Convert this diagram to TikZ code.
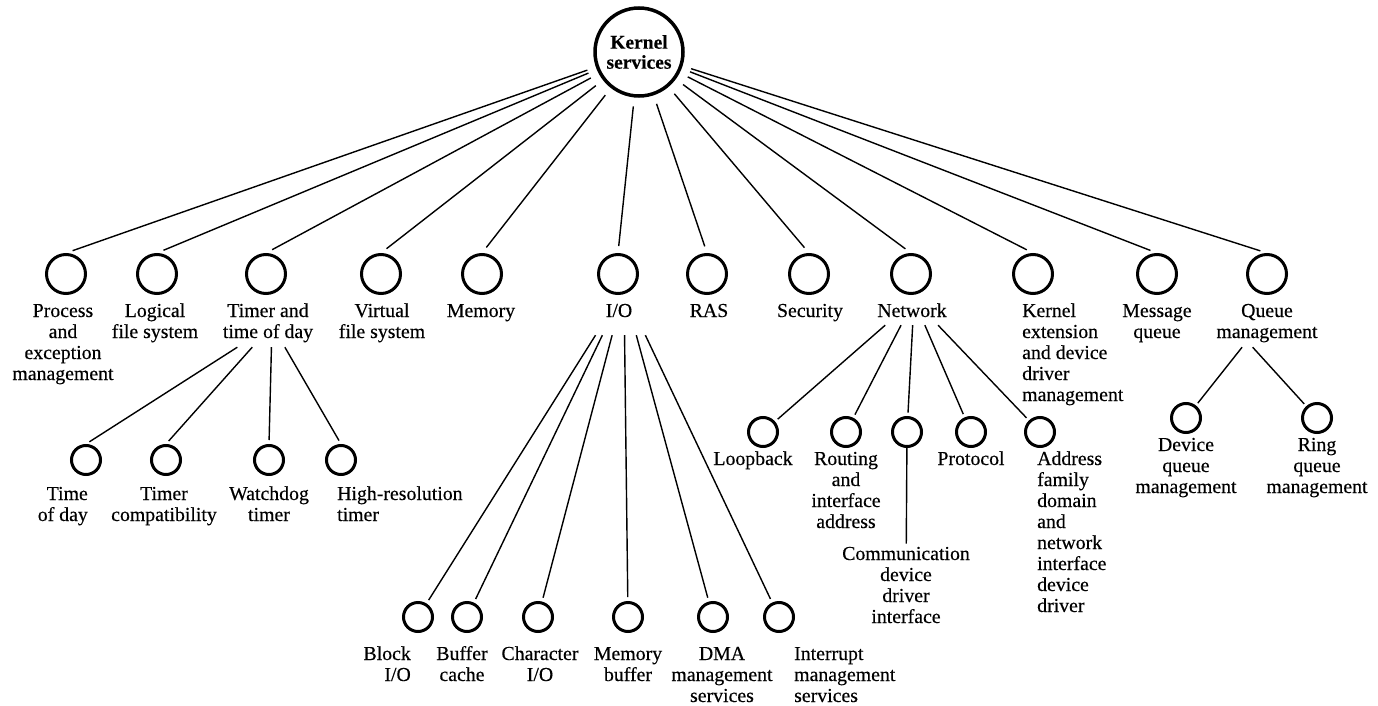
\documentclass[tikz,border=0pt]{standalone}
\usepackage{fontspec}
\setmainfont{Liberation Serif}[FakeBold=0.35]
\begin{document}
\begin{tikzpicture}[x=1pt,y=-1pt,
  every node/.style={inner sep=0pt},
  % labels are placed by the baseline of their last line
  lbl/.style={font=\fontsize{19.8}{21}\selectfont, align=center, anchor=base},
  lblL/.style={lbl, align=left, anchor=base west},
  lblR/.style={lbl, align=right, anchor=base east},
  kernelnode/.style={circle, draw, line width=3.5pt, minimum size=88pt, align=center,
    font=\bfseries\fontsize{19.5}{20}\selectfont},
  svc/.style={circle, draw, line width=3pt, minimum size=39pt},
  sub/.style={circle, draw, line width=3pt, minimum size=29pt},
  hubbox/.style={rectangle, draw=none},
  link/.style={line width=1.4pt},
]
\useasboundingbox (0,0) rectangle (1378,706);

% root
\node[kernelnode] (kernel) at (639,52) {Kernel\\services};

% first level services
\node[svc] (process)  at (66,274)   {};
\node[svc] (logical)  at (157,274)  {};
\node[svc] (timer)    at (266,274)  {};
\node[svc] (virtual)  at (381,274)  {};
\node[svc] (memory)   at (482,274)  {};
\node[svc] (io)       at (618,274)  {};
\node[svc] (ras)      at (707,274)  {};
\node[svc] (security) at (809,274)  {};
\node[svc] (network)  at (911,274)  {};
\node[svc] (kext)     at (1033,274) {};
\node[svc] (message)  at (1157,274) {};
\node[svc] (queue)    at (1267,274) {};

\node[lbl]  (processL)  at (63,380)   {Process\\and\\exception\\management};
\node[lbl]  (logicalL)  at (155,338)  {Logical\\file system};
\node[lbl]  (timerL)    at (268,338)  {Timer and\\time of day};
\node[lbl]  (virtualL)  at (382,338)  {Virtual\\file system};
\node[lbl]  (memoryL)   at (481,317)  {Memory};
\node[lbl]  (ioL)       at (619,317)  {I/O};
\node[lbl]  (rasL)      at (709,317)  {RAS};
\node[lbl]  (securityL) at (810,317)  {Security};
\node[lbl]  (networkL)  at (912,317)  {Network};
\node[lblL] (kextL)     at (1022,401) {Kernel\\extension\\and device\\driver\\management};
\node[lbl]  (messageL)  at (1157,338) {Message\\queue};
\node[lbl]  (queueL)    at (1267,338) {Queue\\management};

% timer and time of day
\node[sub] (tod)     at (86,460)  {};
\node[sub] (tcompat) at (166,460) {};
\node[sub] (wdog)    at (269,460) {};
\node[sub] (hres)    at (341,460) {};
\node[lblR] (todL)     at (88,521)  {Time\\of day};
\node[lbl]  (tcompatL) at (164,521) {Timer\\compatibility};
\node[lbl]  (wdogL)    at (269,521) {Watchdog\\timer};
\node[lblL] (hresL)    at (337,521) {High-resolution\\timer};

% I/O
\node[sub] (blk)  at (418,617) {};
\node[sub] (buf)  at (467,617) {};
\node[sub] (chr)  at (538,617) {};
\node[sub] (mem)  at (628,617) {};
\node[sub] (dma)  at (713,617) {};
\node[sub] (intr) at (779,617) {};
\node[lblR] (blkL)  at (411,681) {Block\\I/O};
\node[lbl]  (bufL)  at (462,681) {Buffer\\cache};
\node[lbl]  (chrL)  at (540,681) {Character\\I/O};
\node[lbl]  (memL)  at (628,681) {Memory\\buffer};
\node[lbl]  (dmaL)  at (722,702) {DMA\\management\\services};
\node[lblL] (intrL) at (794,702) {Interrupt\\management\\services};

% network
\node[sub] (loop)  at (763,432)  {};
\node[sub] (route) at (846,432)  {};
\node[sub] (comm)  at (907,432)  {};
\node[sub] (proto) at (971,432)  {};
\node[sub] (addr)  at (1040,432) {};
\node[lbl]  (loopL)  at (753,465)  {Loopback};
\node[lbl]  (routeL) at (846,528)  {Routing\\and\\interface\\address};
\node[lbl]  (commL)  at (906,623)  {Communication\\device\\driver\\interface};
\node[lbl]  (protoL) at (971,465)  {Protocol};
\node[lblL] (addrL)  at (1037,612) {Address\\family\\domain\\and\\network\\interface\\device\\driver};

% queue management
\node[sub] (dev)  at (1186,418) {};
\node[sub] (ring) at (1317,418) {};
\node[lbl] (devL)  at (1186,493) {Device\\queue\\management};
\node[lbl] (ringL) at (1317,493) {Ring\\queue\\management};

% fan-out points below the parent labels
\node[hubbox, minimum width=140pt, minimum height=44pt] (timerH) at (272,325) {};
\node[hubbox, minimum width=90pt,  minimum height=90pt] (ioH)    at (624,290) {};
\node[hubbox, minimum width=100pt, minimum height=50pt] (netH)   at (914,300) {};
\node[hubbox, minimum width=20pt,  minimum height=12pt] (queueH) at (1247,341) {};

% connectors
\foreach \n in {process,logical,timer,virtual,memory,io,ras,security,network,kext,message,queue}
  \draw[link, shorten <=9pt, shorten >=7pt] (kernel) -- (\n.north);
\foreach \n in {tod,tcompat,wdog,hres}
  \draw[link, shorten >=4pt] (timerH) -- (\n.north);
\foreach \n in {blk,buf,chr,mem,dma,intr}
  \draw[link, shorten >=4pt] (ioH) -- (\n);
\foreach \n in {loop,route,comm,proto,addr}
  \draw[link, shorten >=3.5pt] (netH) -- (\n);
\foreach \n in {dev,ring}
  \draw[link, shorten >=3pt] (queueH) -- (\n);
\draw[link, shorten >=3pt] (comm) -- (commL);
\end{tikzpicture}
\end{document}
